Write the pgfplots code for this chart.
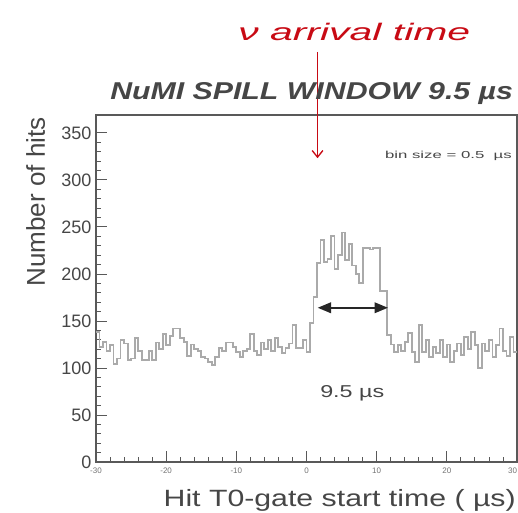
\documentclass[border=0pt]{standalone}
\usepackage{pgfplots}
\pgfplotsset{compat=1.18}
\usepackage{fontspec}
\setmainfont{Liberation Sans}
\usetikzlibrary{arrows.meta}
\definecolor{histgray}{RGB}{170,170,170}
\definecolor{txtgray}{RGB}{70,70,70}
\definecolor{redtxt}{RGB}{200,10,20}
\pgfplotstableread{
x y
-30 138
-29.5 122
-29 128
-28.5 118
-28 124
-27.5 104
-27 110
-26.5 130
-26 126
-25.5 108
-25 110
-24.5 132
-24 118
-23.5 108
-23 108
-22.5 118
-22 108
-21.5 127
-21 120
-20.5 136
-20 124
-19.5 134
-19 142
-18.5 142
-18 132
-17.5 128
-17 113
-16.5 125
-16 120
-15.5 118
-15 112
-14.5 110
-14 106
-13.5 103
-13 112
-12.5 121
-12 118
-11.5 127
-11 127
-10.5 122
-10 117
-9.5 112
-9 118
-8.5 120
-8 136
-7.5 118
-7 114
-6.5 127
-6 120
-5.5 130
-5 118
-4.5 132
-4 122
-3.5 116
-3 121
-2.5 126
-2 146
-1.5 121
-1 121
-0.5 130
0 117
0.5 148
1 175
1.5 212
2 236
2.5 213
3 216
3.5 240
4 205
4.5 220
5 244
5.5 215
6 232
6.5 209
7 200
7.5 190
8 228
8.5 228
9 226
9.5 228
10 228
10.5 182
11 182
11.5 135
12 125
12.5 117
13 124
13.5 118
14 128
14.5 137
15 117
15.5 106
16 146
16.5 117
17 130
17.5 112
18 122
18.5 116
19 130
19.5 112
20 125
20.5 106
21 118
21.5 126
22 114
22.5 133
23 120
23.5 138
24 124
24.5 100
25 126
25.5 118
26 130
26.5 112
27 124
27.5 142
28 118
28.5 113
29 133
29.5 117
30 117
}\hist
\begin{document}
\begin{tikzpicture}
\begin{axis}[
  at={(0,0)}, anchor=south west,
  scale only axis, width=315.75pt, height=260.25pt,
  xmin=-30, xmax=30, ymin=0, ymax=369,
  axis line style={black!65, line width=0.8pt},
  xtick={-30,-20,...,30}, minor x tick num=4,
  xticklabels={-30,-20,-10,0,10,20,\hbox to 0pt{\hss 30}},
  ytick={0,50,...,350}, minor y tick num=4,
  tick align=inside, xtick pos=bottom, ytick pos=left,
  major tick length=8pt, minor tick length=4pt,
  tick style={black!65, line width=0.6pt},
  /pgf/number format/assume math mode=true,
  xticklabel style={font=\fontsize{6}{6}\selectfont, text=black!55, yshift=-1pt},
  yticklabel style={font=\fontsize{13.5}{14}\selectfont, text=txtgray},
  clip=false,
]
\addplot[const plot mark left, histgray, line width=1.4pt] table[x=x,y=y] {\hist};
\draw[black!85, line width=1.2pt, {Triangle[length=10pt,width=8pt]}-{Triangle[length=10pt,width=8pt]}] (axis cs:1.6,164) -- (axis cs:11.6,164);
\draw[redtxt, line width=1pt, -{Straight Barb[length=5pt,width=8pt]}] (axis cs:1.57,436) -- (axis cs:1.57,323);
\end{axis}
\begin{scope}[shift={(-72pt,346.5pt)}, x=0.75pt, y=-0.75pt]
\node[anchor=base west, inner sep=0, text=redtxt] at (238,41) {\resizebox{174pt}{13pt}{\itshape ν arrival time}};
\node[anchor=base west, inner sep=0, text=txtgray] at (110,100) {\resizebox{302pt}{12.75pt}{\bfseries\itshape NuMI SPILL WINDOW 9.5 µs}};
\node[anchor=base east, inner sep=0, text=txtgray] at (512,159) {\resizebox{95pt}{5.5pt}{bin size = 0.5\ \ µs}};
\node[anchor=base west, inner sep=0, text=txtgray] at (320,398) {\resizebox{48pt}{9pt}{9.5 µs}};
\node[anchor=base east, inner sep=0, text=txtgray] at (516,507) {\resizebox{264pt}{12.8pt}{Hit T0-gate start time ( µs)}};
\node[anchor=base west, rotate=90, inner sep=0, text=txtgray] at (45,287) {\resizebox{127pt}{14pt}{Number of hits}};
\pgfresetboundingbox
\path[use as bounding box] (0,0) rectangle (518,513);
\end{scope}
\end{tikzpicture}
\end{document}
